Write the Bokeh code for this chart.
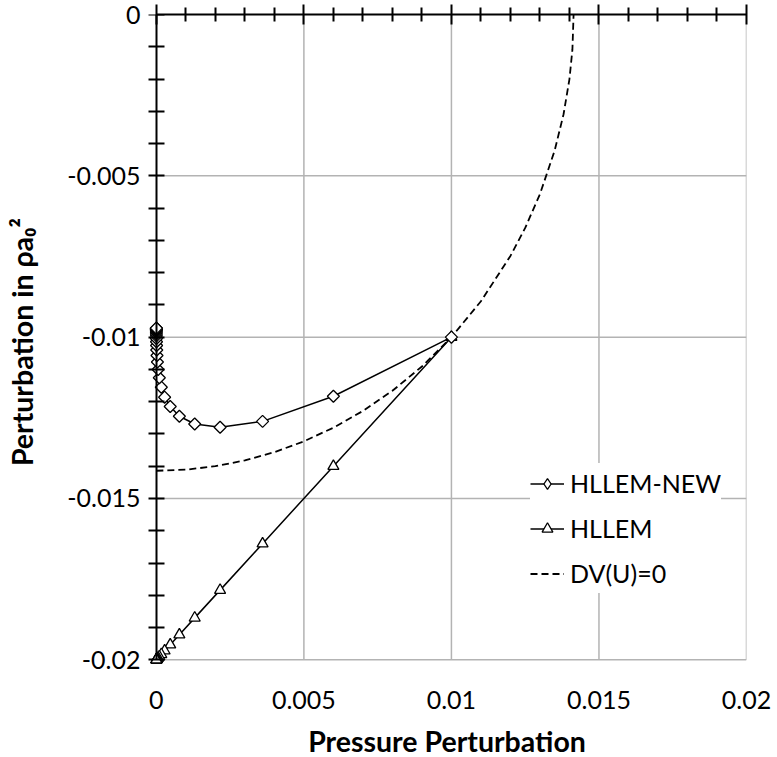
import numpy as np
from bokeh.plotting import figure
from bokeh.models import Range1d, FixedTicker, LinearAxis, Legend, LegendItem
from bokeh.embed import file_html
from bokeh.resources import INLINE

# ---------------- data ----------------
x_ticks = [0.0, 0.005, 0.01, 0.015, 0.02]
x_tick_labels = ["0", "0.005", "0.01", "0.015", "0.02"]
x_minor = [0.001, 0.002, 0.003, 0.004, 0.006, 0.007, 0.008, 0.009, 0.011,
           0.012, 0.013, 0.014, 0.016, 0.017, 0.018, 0.019]
y_ticks = [-0.02, -0.015, -0.01, -0.005, 0.0]
y_tick_labels = ["-0.02", "-0.015", "-0.01", "-0.005", "0"]
y_minor = [-0.019, -0.018, -0.017, -0.016, -0.014, -0.013, -0.012, -0.011,
           -0.009, -0.008, -0.007, -0.006, -0.004, -0.003, -0.002, -0.001]

# HLLEM-NEW (diamonds)
x_new = [0.01, 0.006, 0.0036, 0.00216, 0.0013, 0.00078, 0.00047, 0.00028,
         0.000168, 0.0001, 0.00006, 0.000036, 0.000022, 0.000013, 0.0000078,
         0.0000047, 0.0000028, 0.0000017, 0.000001, 0.0000006, 0.00000036,
         0.00000022, 0.00000013, 0.00000008, 0.00000005, 0.00000003,
         0.00000002, 0.00000001]
y_new = [-0.01, -0.01183, -0.01261, -0.01279, -0.01269, -0.01245, -0.01215,
         -0.01186, -0.01155, -0.01126, -0.01100, -0.01077, -0.01057, -0.01040,
         -0.01026, -0.01014, -0.01004, -0.00996, -0.00990, -0.00985, -0.00981,
         -0.00978, -0.00976, -0.00975, -0.00974, -0.00973, -0.00972, -0.00972]

# HLLEM (triangles)
x_old = [0.01, 0.006, 0.0036, 0.00216, 0.0013, 0.00078, 0.00047, 0.00028,
         0.000168, 0.0001, 0.00006, 0.000036, 0.000022, 0.000013, 0.0000078,
         0.0000047, 0.0000028, 0.0000017, 0.000001]
y_old = [-0.01, -0.014, -0.0164, -0.01784, -0.0187, -0.01922, -0.01953,
         -0.01972, -0.019832, -0.0199, -0.01994, -0.019964, -0.019978,
         -0.019987, -0.0199922, -0.0199953, -0.0199972, -0.0199983, -0.019999]

# DV(U)=0 (dashed)
x_dv = [0.0, 0.001, 0.002, 0.003, 0.004, 0.005, 0.006, 0.007, 0.008, 0.009,
        0.010, 0.011, 0.012, 0.0125, 0.013, 0.0135, 0.0138, 0.014, 0.0141,
        0.01414]
y_dv = [-0.01414, -0.014107, -0.0140, -0.01382, -0.013565, -0.013229,
        -0.012806, -0.012288, -0.011662, -0.010909, -0.0100, -0.008888,
        -0.007483, -0.006614, -0.005568, -0.004213, -0.003092, -0.0020,
        -0.001091, 0.0]

FONT = "Lato"

p = figure(frame_width=599, frame_height=655,
           x_range=Range1d(-0.0003, 0.02), y_range=Range1d(-0.0203, 0.0),
           output_backend="svg", toolbar_location=None,
           min_border_left=147, min_border_right=31,
           min_border_top=14, min_border_bottom=88)
p.xgrid.visible = False
p.ygrid.visible = False
p.outline_line_color = None
p.background_fill_color = "white"

# grid lines (gray), drawn from tick arrays
GRID = "#b3b3b3"
xg = x_ticks[1:]
p.segment(x0=xg, y0=[y_ticks[0]] * len(xg), x1=xg, y1=[y_ticks[-1]] * len(xg),
          line_color=GRID, line_width=1.5)
yg = y_ticks[:-1]
p.segment(x0=[x_ticks[0]] * len(yg), y0=yg, x1=[x_ticks[-1]] * len(yg), y1=yg,
          line_color=GRID, line_width=1.5)

# series
r_dv = p.line(x_dv, y_dv, line_color="black", line_width=1.8, line_dash="7 4")
r_old_l = p.line(x_old, y_old, line_color="black", line_width=1.5)
r_old_m = p.scatter(x_old, y_old, marker="triangle", size=11,
                    fill_color="white", line_color="black", line_width=1.3)
r_new_l = p.line(x_new, y_new, line_color="black", line_width=1.5)
# diamond symbol used for the legend (hidden beneath the first plotted marker)
r_new_leg = p.scatter(x_new[:1], y_new[:1], marker="diamond", size=9,
                      fill_color="white", line_color="black", line_width=1.3)
r_new_m = p.scatter(x_new, y_new, marker="square", angle=np.pi / 4, size=8.5,
                    fill_color="white", line_color="black", line_width=1.3)

# bottom axis: labels only
xa = p.xaxis[0]
xa.ticker = FixedTicker(ticks=x_ticks, minor_ticks=[])
xa.major_label_overrides = dict(zip(x_ticks, x_tick_labels))
xa.axis_line_color = None
xa.major_tick_in = 0
xa.major_tick_out = 0
xa.minor_tick_in = 0
xa.minor_tick_out = 0
xa.major_label_standoff = 21
xa.major_label_text_font = FONT
xa.major_label_text_font_size = "25px"
xa.major_label_text_color = "black"
xa.axis_label = "Pressure Perturbation"
xa.axis_label_text_font = FONT
xa.axis_label_text_font_style = "bold"
xa.axis_label_text_font_size = "28.5px"
xa.axis_label_text_color = "black"
xa.axis_label_standoff = 12

# left axis (labels only, in the panel)
ya = p.yaxis[0]
ya.ticker = FixedTicker(ticks=y_ticks, minor_ticks=[])
ya.major_label_overrides = dict(zip(y_ticks, y_tick_labels))
ya.axis_line_color = None
ya.major_tick_in = 0
ya.major_tick_out = 0
ya.minor_tick_in = 0
ya.minor_tick_out = 0
ya.major_label_standoff = 7
ya.major_label_text_font = FONT
ya.major_label_text_font_size = "25px"
ya.major_label_text_color = "black"
ya.axis_label = "Perturbation in ρa₀²"
ya.axis_label_text_font = FONT
ya.axis_label_text_font_style = "bold"
ya.axis_label_text_font_size = "28.5px"
ya.axis_label_text_color = "black"
ya.axis_label_standoff = 25

# y axis line + crossing ticks at x = 0
yl = LinearAxis(fixed_location=0.0, bounds=(y_ticks[0], y_ticks[-1]),
                ticker=FixedTicker(ticks=y_ticks, minor_ticks=y_minor))
yl.axis_line_color = "black"
yl.axis_line_width = 2
yl.major_tick_in = 8
yl.major_tick_out = 8
yl.minor_tick_in = 8
yl.minor_tick_out = 8
yl.major_tick_line_width = 2
yl.minor_tick_line_width = 2
yl.major_label_text_font_size = "0px"
yl.major_label_text_alpha = 0
p.add_layout(yl, "left")

# top axis at y = 0 (ticks only)
ta = LinearAxis(bounds=(x_ticks[0], x_ticks[-1]),
                ticker=FixedTicker(ticks=x_ticks, minor_ticks=x_minor))
ta.axis_line_color = "black"
ta.axis_line_width = 2
ta.major_tick_in = 10
ta.major_tick_out = 10
ta.minor_tick_in = 7
ta.minor_tick_out = 7
ta.major_tick_line_width = 2
ta.minor_tick_line_width = 2
ta.major_label_text_font_size = "0px"
ta.major_label_text_alpha = 0
ta.major_label_standoff = 0
p.add_layout(ta, "above")

legend = Legend(items=[
    LegendItem(label="HLLEM-NEW", renderers=[r_new_l, r_new_leg]),
    LegendItem(label="HLLEM", renderers=[r_old_l, r_old_m]),
    LegendItem(label="DV(U)=0", renderers=[r_dv]),
], location=(383, 76))
legend.label_text_font = FONT
legend.label_text_font_size = "25px"
legend.label_text_color = "black"
legend.border_line_color = None
legend.background_fill_color = "white"
legend.background_fill_alpha = 1.0
legend.glyph_width = 34
legend.glyph_height = 27
legend.label_height = 40
legend.label_standoff = 6
legend.spacing = 5
legend.padding = 6
legend.margin = 0
p.add_layout(legend)

open("out.html", "w").write(file_html(p, INLINE))
